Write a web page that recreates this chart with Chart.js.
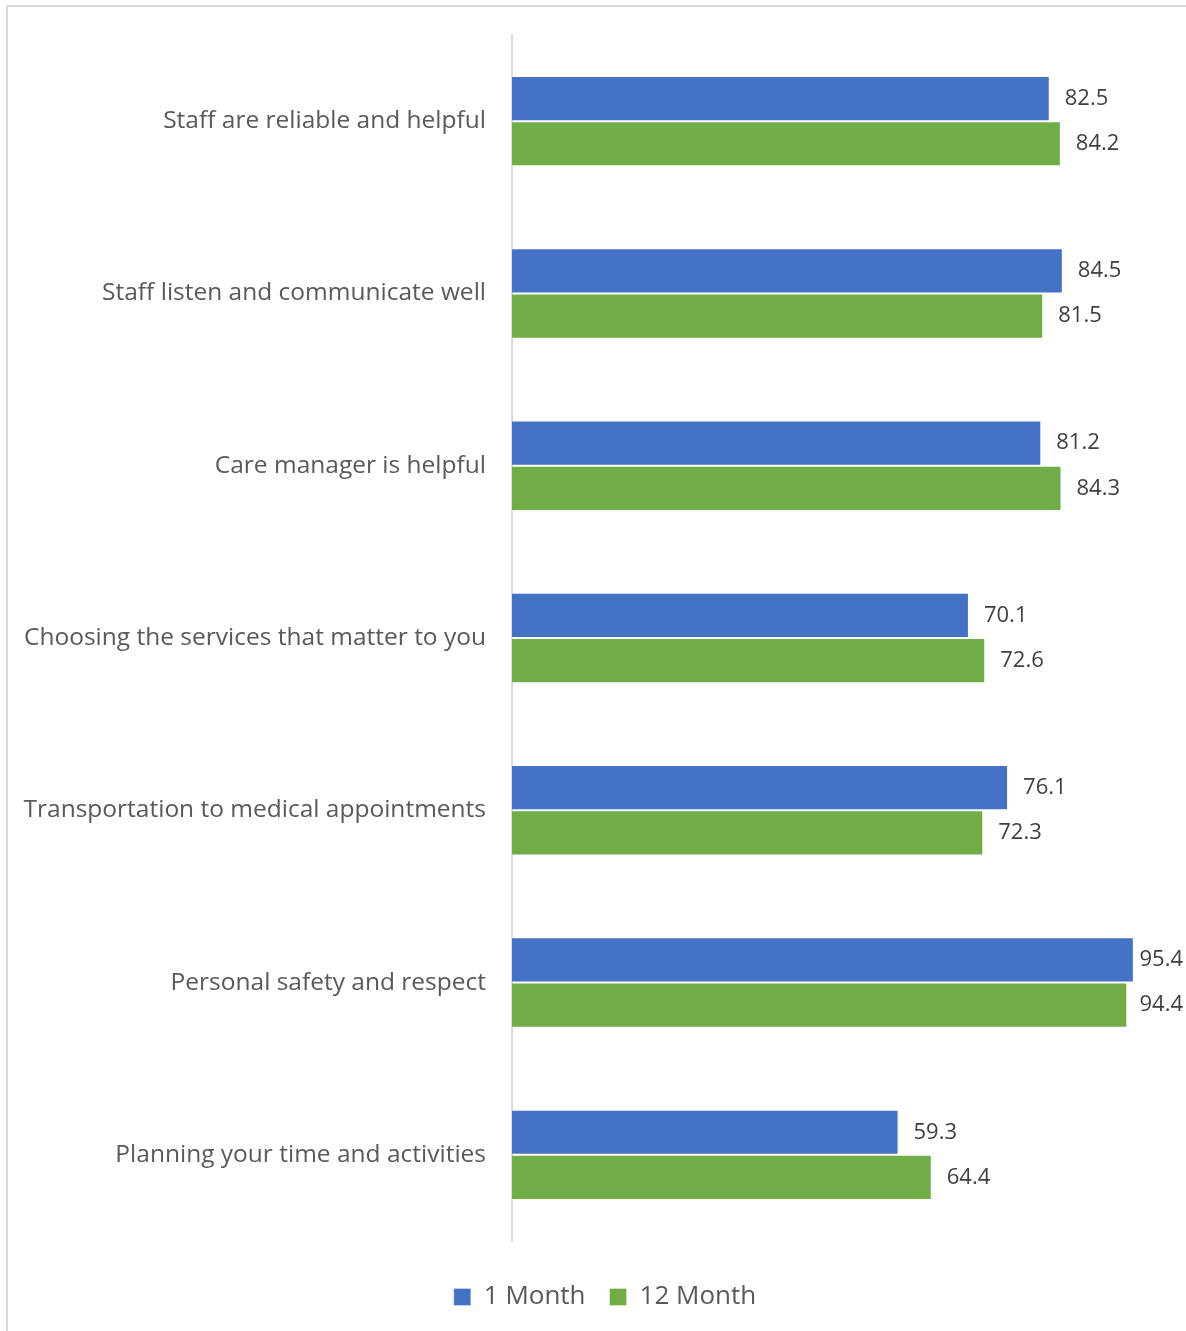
<!DOCTYPE html>
<html>
<head>
<meta charset="utf-8">
<script src="https://cdn.jsdelivr.net/npm/chart.js@4"></script>
<style>
  html, body { margin: 0; padding: 0; background: #fff; overflow: hidden; }
  #frame {
    position: absolute; left: 6px; top: 5px; width: 1180px; height: 1330px;
    border-left: 2px solid #d9d9d9; border-top: 2px solid #d9d9d9; box-sizing: border-box;
  }
  #wrap { position: absolute; left: 0; top: 0; width: 1186px; height: 1331px; }
</style>
</head>
<body>
<div id="frame"></div>
<div id="wrap"><canvas id="BarChart"></canvas></div>
<script>
const categories = [
  "Staff are reliable and helpful",
  "Staff listen and communicate well",
  "Care manager is helpful",
  "Choosing the services that matter to you",
  "Transportation to medical appointments",
  "Personal safety and respect",
  "Planning your time and activities"
];
const oneMonth = [82.5, 84.5, 81.2, 70.1, 76.1, 95.4, 59.3];
const twelveMonth = [84.2, 81.5, 84.3, 72.6, 72.3, 94.4, 64.4];
const seriesNames = ["1 Month", "12 Month"];

const FONT = "'Open Sans', 'Noto Sans', sans-serif";

// value labels at the end of each bar (pulled back in if they would run off the canvas)
const barValues = {
  id: "barValues",
  afterDatasetsDraw(chart) {
    const ctx = chart.ctx;
    ctx.save();
    ctx.font = "22px " + FONT;
    ctx.fillStyle = "#404040";
    ctx.textAlign = "left";
    ctx.textBaseline = "middle";
    chart.data.datasets.forEach((ds, i) => {
      chart.getDatasetMeta(i).data.forEach((bar, j) => {
        const txt = ds.data[j].toFixed(1);
        const w = ctx.measureText(txt).width;
        const x = Math.min(bar.x + 15, chart.width - w - 3);
        ctx.fillText(txt, x, bar.y);
      });
    });
    ctx.restore();
  }
};

const data = {
  labels: categories,
  datasets: [
    {
      label: seriesNames[0],
      data: oneMonth,
      backgroundColor: "#4472C4",
      borderColor: "rgba(255,255,255,0.35)",
      borderWidth: 1,
    },
    {
      label: seriesNames[1],
      data: twelveMonth,
      backgroundColor: "#70AD47",
      borderColor: "rgba(255,255,255,0.35)",
      borderWidth: 1,
    },
  ],
};

const config = {
  type: "bar",
  data,
  plugins: [barValues],
  options: {
    indexAxis: "y",
    responsive: true,
    maintainAspectRatio: false,
    animation: false,
    datasets: {
      bar: { categoryPercentage: 0.525, barPercentage: 1.0 }
    },
    // right padding runs past the canvas so the legend sits under the plot's middle
    layout: { padding: { top: 35, right: -24, left: 0, bottom: 11 } },
    plugins: {
      tooltip: { enabled: false },
      legend: {
        position: "bottom",
        labels: {
          font: { family: FONT, size: 26 },
          color: "#595959",
          boxWidth: 17,
          boxHeight: 17,
          padding: 24,
        },
      },
    },
    scales: {
      x: {
        min: 0,
        max: 103.4,
        display: true,
        afterFit(scale) { scale.height = 19; },
        grid: { display: false, drawTicks: false },
        border: { display: false },
        ticks: { display: false },
      },
      y: {
        afterFit(scale) {
          scale.width = 512;
          scale.paddingTop = 0;
          scale.paddingBottom = 0;
        },
        grid: { display: false, drawTicks: false },
        border: { display: true, color: "#d9d9d9", width: 2 },
        ticks: {
          padding: 26,
          color: "#595959",
          font: { family: FONT, size: 24.5 },
        },
      },
    },
  },
};

const BarChart = new Chart(document.getElementById("BarChart"), config);
</script>
</body>
</html>
